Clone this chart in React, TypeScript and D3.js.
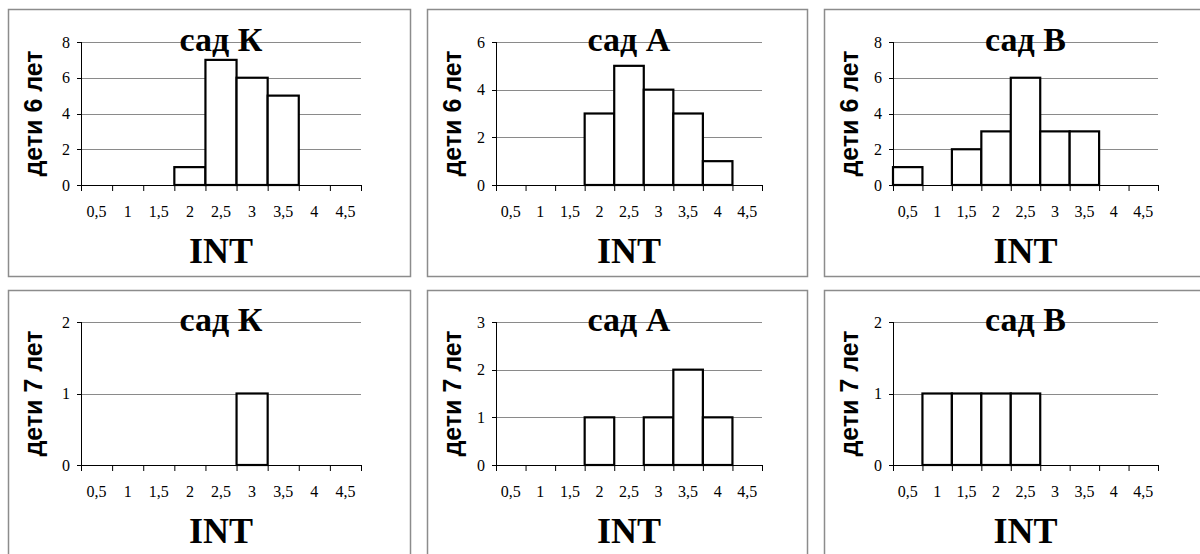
import React from 'react';
import * as d3 from 'd3';

// INT bins (x categories)
const bins = ['0,5', '1', '1,5', '2', '2,5', '3', '3,5', '4', '4,5'];

// counts per bin, 6-year-olds
const sadK6 = [0, 0, 0, 1, 7, 6, 5, 0, 0];
const sadA6 = [0, 0, 0, 3, 5, 4, 3, 1, 0];
const sadV6 = [1, 0, 2, 3, 6, 3, 3, 0, 0];

// counts per bin, 7-year-olds
const sadK7 = [0, 0, 0, 0, 0, 1, 0, 0, 0];
const sadA7 = [0, 0, 0, 1, 0, 1, 2, 1, 0];
const sadV7 = [0, 1, 1, 1, 1, 0, 0, 0, 0];

const titles = ['сад К', 'сад А', 'сад В'];
const rowLabels = ['дети 6 лет', 'дети 7 лет'];
const yMax = [[8, 6, 8], [2, 3, 2]];
const yStep = [[2, 2, 2], [1, 1, 1]];
const series = [[sadK6, sadA6, sadV6], [sadK7, sadA7, sadV7]];

// layout
const frameX = [8, 427, 824];
const frameW = [402, 380, 400];
const frameY = [9, 290];
const frameH = [267, 280];
const plotX = [[81, 361], [496, 762], [893, 1158]];
const plotY = [[42, 185], [322, 465]];

const serif = '"Liberation Serif", "Times New Roman", serif';
const sans = '"Liberation Sans", Arial, sans-serif';

interface PanelProps {
  row: number;
  col: number;
}

const Panel: React.FC<PanelProps> = ({ row, col }) => {
  const values = series[row][col];
  const [x0, x1] = plotX[col];
  const [y0, y1] = plotY[row];

  const x = d3.scaleBand<string>().domain(bins).range([x0, x1]).padding(0);
  const y = d3.scaleLinear().domain([0, yMax[row][col]]).range([y1, y0]);
  const yTicks = d3.range(0, yMax[row][col] + 0.001, yStep[row][col]);
  const xTicks = bins.map(b => x(b)!).concat([x1]);
  const cx = (x0 + x1) / 2;
  const fx = frameX[col];
  const fy = frameY[row];

  return (
    <g>
      <rect x={fx + 0.5} y={fy + 0.5} width={frameW[col]} height={frameH[row]}
        fill="white" stroke="#8c8c8c" strokeWidth={1.5} />

      {/* gridlines */}
      {yTicks.filter(t => t > 0).map(t => (
        <line key={'g' + t} x1={x0} x2={x1} y1={Math.round(y(t)) + 0.5} y2={Math.round(y(t)) + 0.5}
          stroke="#8a8a8a" strokeWidth={1} />
      ))}

      {/* title */}
      <text x={cx} y={y0 + 9} textAnchor="middle" fontFamily={serif} fontWeight="bold"
        fontSize={34}>{titles[col]}</text>

      {/* bars */}
      {values.map((v, i) => v > 0 ? (
        <rect key={'b' + i} x={x(bins[i])!} y={y(v)} width={x.bandwidth()} height={y(0) - y(v)}
          fill="white" stroke="black" strokeWidth={2.2} />
      ) : null)}

      {/* y axis */}
      <line x1={x0 + 0.5} x2={x0 + 0.5} y1={y0} y2={y1} stroke="black" strokeWidth={1} />
      {yTicks.map(t => (
        <g key={'y' + t}>
          <line x1={x0 - 4} x2={x0} y1={Math.round(y(t)) + 0.5} y2={Math.round(y(t)) + 0.5}
            stroke="black" strokeWidth={1} />
          <text x={x0 - 11} y={y(t) + 5.5} textAnchor="end" fontFamily={serif} fontSize={16}>{t}</text>
        </g>
      ))}

      {/* x axis */}
      <line x1={x0} x2={x1} y1={Math.round(y1) + 0.5} y2={Math.round(y1) + 0.5} stroke="black" strokeWidth={1} />
      {xTicks.map((t, i) => (
        <line key={'xt' + i} x1={t + 0.5} x2={t + 0.5} y1={y1} y2={y1 + 6} stroke="black" strokeWidth={1} />
      ))}
      {bins.map(b => (
        <text key={'xl' + b} x={x(b)! + x.bandwidth() / 2} y={y1 + 32} textAnchor="middle"
          fontFamily={serif} fontSize={16}>{b}</text>
      ))}

      {/* axis titles */}
      <text x={cx} y={y1 + 78} textAnchor="middle" fontFamily={serif} fontWeight="bold"
        fontSize={36}>INT</text>
      <text transform={`translate(${fx + 25},${(y0 + y1) / 2}) rotate(-90)`} textAnchor="middle"
        dominantBaseline="central" fontFamily={sans} fontWeight="bold" fontSize={25}>
        {rowLabels[row]}
      </text>
    </g>
  );
};

export default function App() {
  return (
    <svg width={1200} height={554} style={{ position: 'absolute', left: 0, top: 0, background: 'white' }}>
      {[0, 1].map(r => [0, 1, 2].map(c => <Panel key={`${r}-${c}`} row={r} col={c} />))}
    </svg>
  );
}
